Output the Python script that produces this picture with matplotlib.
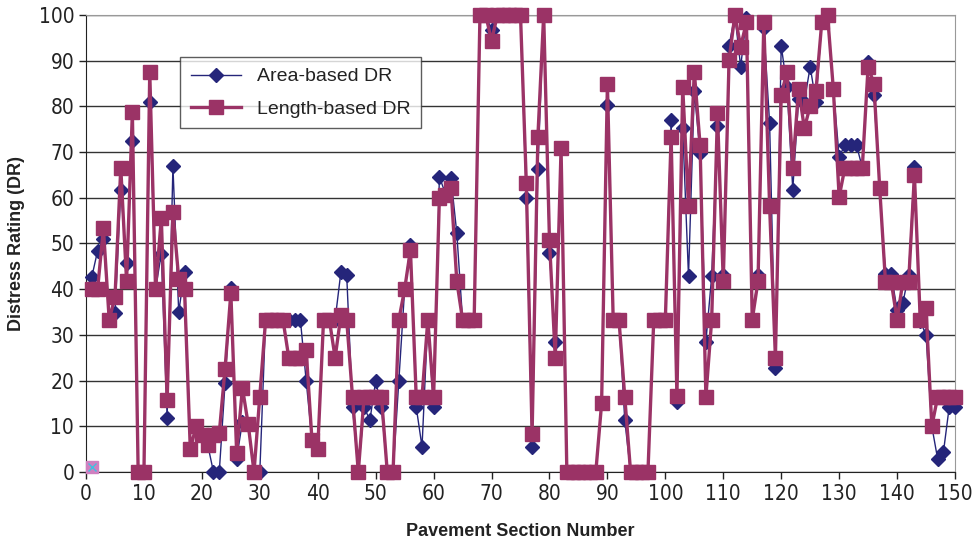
import numpy as np
import matplotlib.pyplot as plt
from matplotlib import font_manager

# narrow font for tick labels if one is there, else condensed DejaVu
names = {f.name for f in font_manager.fontManager.ttflist}
narrow = 'Liberation Sans Narrow' if 'Liberation Sans Narrow' in names else 'DejaVu Sans'
plt.rcParams['font.family'] = ['Liberation Sans', 'DejaVu Sans']

sections = np.arange(1, 151)

area_dr = [
    42.7, 48.4, 50.9, 33.3, 34.7, 61.8, 45.8, 72.5, 0, 0,
    80.9, 40, 47.8, 11.9, 66.9, 35, 43.8, 5, 10, 8,
    6, 0, 0, 19.4, 40.2, 2.9, 11, 10.5, 0, 0,
    33.3, 33.3, 33.3, 33.3, 33.3, 33.3, 33.3, 20, 7, 5,
    33.3, 33.3, 33.3, 43.8, 43, 14.2, 0, 14.2, 11.3, 19.9,
    14.2, 0, 0, 20, 40, 49.6, 14.2, 5.5, 33.3, 14.2,
    64.6, 61, 64.3, 52.3, 33.3, 33.3, 33.3, 100, 100, 96.7,
    100, 100, 100, 100, 100, 60, 5.5, 66.4, 100, 48,
    28.5, 70.8, 0, 0, 0, 0, 0, 0, 15, 80.4,
    33.3, 33.3, 11.3, 0, 0, 0, 0, 33.3, 33.3, 33.3,
    77, 15.3, 75.2, 42.8, 83.4, 69.7, 28.5, 42.8, 75.8, 43.1,
    93.3, 100, 88.7, 99.3, 33.3, 43.1, 97.1, 76.3, 22.8, 93.3,
    84.3, 61.8, 81.6, 81, 88.7, 80.9, 98.4, 100, 83.8, 69,
    71.5, 71.5, 71.5, 66.6, 89.8, 82.6, 62.2, 43.4, 43.4, 35.4,
    37, 43.2, 66.8, 33, 30, 10, 2.9, 4.3, 14.2, 14.2,
]

length_dr = [
    40, 40, 53.3, 33.3, 38.3, 66.6, 41.8, 78.7, 0, 0,
    87.6, 40, 55.5, 15.7, 56.9, 42.3, 40, 5, 10, 8,
    6, 8, 8.5, 22.6, 39.2, 4.2, 18.4, 10.4, 0, 16.5,
    33.3, 33.3, 33.3, 33.3, 25, 25, 25, 26.7, 7, 5,
    33.3, 33.3, 25, 34.3, 33.3, 16.4, 0, 16.4, 16.4, 16.4,
    16.4, 0, 0, 33.3, 40, 48.6, 16.4, 16.4, 33.3, 16.4,
    60, 60.5, 62.2, 41.8, 33.3, 33.3, 33.3, 100, 100, 94.3,
    100, 100, 100, 100, 100, 63.3, 8.2, 73.4, 100, 50.7,
    25, 70.8, 0, 0, 0, 0, 0, 0, 15, 84.9,
    33.3, 33.3, 16.4, 0, 0, 0, 0, 33.3, 33.3, 33.3,
    73.4, 16.6, 84.2, 58.2, 87.6, 71.5, 16.4, 33.3, 78.5, 41.8,
    90.1, 100, 93.1, 98.4, 33.3, 41.8, 98.4, 58.2, 25, 82.5,
    87.6, 66.6, 83.9, 75.2, 80.1, 83.4, 98.4, 100, 83.8, 60.2,
    66.6, 66.6, 66.6, 66.6, 88.7, 85, 62.2, 41.6, 41.6, 33.3,
    41.6, 41.6, 65, 33.3, 35.8, 10, 16.4, 16.4, 16.4, 16.4,
]

# stray marker sitting at the origin in the source chart
stray_x = [1]
stray_y = [1]

fig = plt.figure(figsize=(9.72, 5.45), dpi=100)
ax = fig.add_axes([0.0885, 0.134, 0.894, 0.8385])

ax.plot(sections, area_dr, color='#25257a', linewidth=1.0, marker='D',
        markersize=7, label='Area-based DR', clip_on=False, zorder=3)
ax.plot(sections, length_dr, color='#9b3366', linewidth=2.4, marker='s',
        markersize=9.8, label='Length-based DR', clip_on=False, zorder=4)
ax.plot(stray_x, stray_y, marker='s', color='#d080c0', markersize=8,
        linestyle='none', clip_on=False, zorder=5)
ax.plot(stray_x, stray_y, marker='x', color='#40c0e0', markersize=6,
        linestyle='none', clip_on=False, zorder=6)

ax.set_xlim(0, 150)
ax.set_ylim(0, 100)
ax.set_xticks(np.arange(0, 151, 10))
ax.set_yticks(np.arange(0, 101, 10))
ax.grid(axis='y', color='#333333', linewidth=1.0)
ax.set_axisbelow(True)

for side in ['top', 'right']:
    ax.spines[side].set_color('#999999')
for side in ['left', 'bottom']:
    ax.spines[side].set_color('#222222')

ax.tick_params(axis='both', direction='out', length=5, width=1,
               labelsize=15, color='#222222', labelcolor='#222222')
for lab in ax.get_xticklabels() + ax.get_yticklabels():
    lab.set_family(narrow)
    lab.set_stretch('condensed')

ax.set_xlabel('Pavement Section Number', fontsize=13, fontweight='bold',
              color='#222222', labelpad=14)
ax.set_ylabel('Distress Rating (DR)', fontsize=13, fontweight='bold',
              color='#222222', labelpad=10)

leg = ax.legend(loc='upper left', bbox_to_anchor=(0.108, 0.908),
                borderaxespad=0, fontsize=14, frameon=True, fancybox=False,
                borderpad=0.55, handlelength=2.6, labelspacing=0.75)
leg.get_frame().set_edgecolor('#333333')
leg.get_frame().set_linewidth(1.0)
for txt in leg.get_texts():
    txt.set_color('#222222')

plt.savefig('out.png', dpi=100)
